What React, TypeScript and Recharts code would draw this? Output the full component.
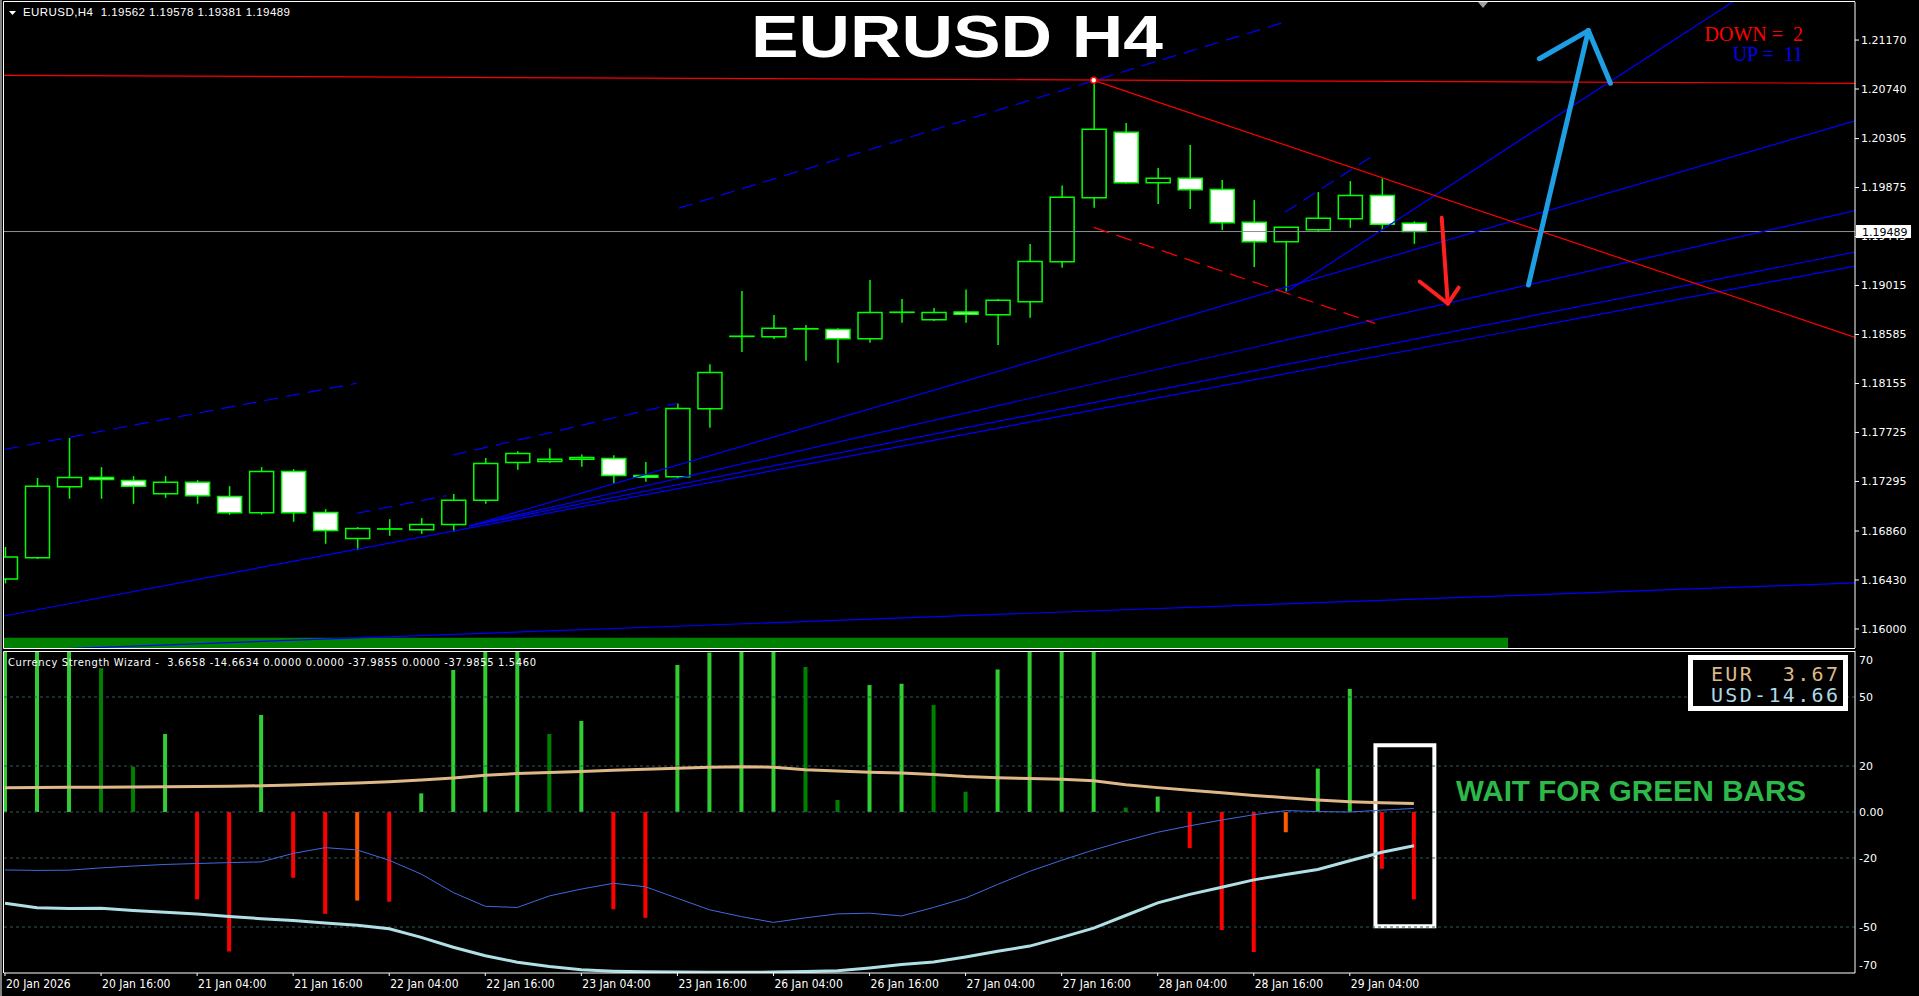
import React from 'react';
import {
  ComposedChart,
  Bar,
  Line,
  XAxis,
  YAxis,
  ReferenceLine,
  ReferenceArea,
  ReferenceDot,
  Cell,
} from 'recharts';

// EURUSD H4, bar 0 = 20 Jan 04:00
const opens = [
  1.16439, 1.16626, 1.17248, 1.1733, 1.17304, 1.17187, 1.17287, 1.17164, 1.1702, 1.17383,
  1.17023, 1.16795, 1.16877, 1.1687, 1.16918, 1.17129, 1.17462, 1.17471, 1.17489, 1.17497,
  1.17348, 1.17336, 1.17933, 1.18568, 1.18565, 1.18634, 1.1863, 1.18547, 1.18779, 1.18714,
  1.18782, 1.18758, 1.18872, 1.19224, 1.19785, 1.2036, 1.19917, 1.19956, 1.19859, 1.1957,
  1.19399, 1.19504, 1.19601, 1.19806, 1.19562,
];
const highs = [
  1.1672, 1.17326, 1.17676, 1.17421, 1.17342, 1.17342, 1.17307, 1.17254, 1.17421, 1.17403,
  1.17052, 1.16894, 1.16964, 1.16973, 1.17184, 1.175, 1.17561, 1.17585, 1.17532, 1.17526,
  1.17465, 1.1798, 1.18325, 1.18966, 1.18756, 1.18668, 1.18641, 1.19063, 1.18896, 1.18817,
  1.18981, 1.18896, 1.19379, 1.19894, 1.20816, 1.20441, 1.20046, 1.20248, 1.19941, 1.19765,
  1.1953, 1.19835, 1.19932, 1.19956, 1.19578,
];
const lows = [
  1.164, 1.16615, 1.17143, 1.17143, 1.17099, 1.17151, 1.17099, 1.17002, 1.17002, 1.16941,
  1.16748, 1.16692, 1.16818, 1.16835, 1.16856, 1.17099, 1.17397, 1.17459, 1.17424, 1.17274,
  1.17292, 1.17316, 1.17766, 1.18431, 1.18545, 1.18354, 1.18337, 1.18512, 1.18688, 1.18703,
  1.18688, 1.18492, 1.18732, 1.19171, 1.19698, 1.1991, 1.1973, 1.19686, 1.19502, 1.19177,
  1.18955, 1.19484, 1.19522, 1.19502, 1.19381,
];
const closes = [
  1.16632, 1.17253, 1.1733, 1.17313, 1.17252, 1.17287, 1.17169, 1.1702, 1.17383, 1.1702,
  1.16865, 1.16883, 1.16879, 1.16918, 1.17129, 1.17453, 1.17541, 1.17489, 1.17506, 1.17348,
  1.17331, 1.17936, 1.18252, 1.1857, 1.18639, 1.18636, 1.18547, 1.18779, 1.18781, 1.18779,
  1.18762, 1.18885, 1.19227, 1.19789, 1.20386, 1.19917, 1.19956, 1.19856, 1.19566, 1.19399,
  1.19526, 1.19605, 1.19806, 1.19552, 1.19489,
];

// Currency Strength Wizard
const histValues = [
  80, 80, 80, 62.5, 19.7, 33.9, -38, -60.7, 42.2, -28.6,
  -44.3, -38.5, -39, 8.1, 61.7, 80, 80, 33.9, 39.6, -42.3,
  -46, 63.9, 69.3, 80, 80, 63, 5.2, 55.2, 55.8, 46.5,
  8.8, 62, 80, 80, 80, 1.9, 6.7, -15.7, -51.3, -60.9,
  -8.8, 18.9, 53.5, -24.7, -38,
];
const histKinds = [
  'up', 'up', 'up', 'upWeak', 'upWeak', 'up', 'down', 'down', 'up', 'down',
  'down', 'downWeak', 'down', 'up', 'up', 'up', 'up', 'upWeak', 'up', 'down',
  'down', 'up', 'up', 'up', 'up', 'upWeak', 'upWeak', 'up', 'up', 'upWeak',
  'upWeak', 'up', 'up', 'up', 'up', 'upWeak', 'up', 'down', 'down', 'down',
  'downWeak', 'up', 'up', 'down', 'down',
];
const eurStrength = [
  10.5, 10.7, 10.8, 10.8, 10.9, 11.0, 11.1, 11.2, 11.4, 11.7,
  12.2, 12.6, 13.2, 13.9, 14.8, 16.0, 16.7, 17.2, 17.6, 18.1,
  18.6, 19.0, 19.5, 19.7, 19.5, 18.4, 17.8, 17.3, 17.0, 16.3,
  15.4, 14.9, 14.6, 14.2, 13.6, 11.8, 10.6, 9.5, 8.4, 7.2,
  6.2, 5.2, 4.5, 4.0, 3.67,
];
const usdStrength = [
  -39.7, -41.6, -42, -41.8, -42.8, -43.6, -44.3, -45.4, -46.4, -47.2,
  -48.3, -49.2, -50.8, -54.5, -58.8, -62.5, -65.3, -67.2, -68.6, -69.2,
  -69.5, -69.6, -69.7, -69.7, -69.6, -69.4, -69.0, -67.8, -66.3, -65.2,
  -63, -60.5, -58.3, -54.5, -50.5, -45, -39.5, -35.8, -32.7, -29.5,
  -27.2, -25, -21.2, -17.5, -14.66,
];
const signalLine = [
  -25.2, -25.4, -25.3, -24.3, -23.5, -22.8, -22.4, -22, -21.7, -18,
  -15.5, -16.5, -21, -27, -35, -41, -41.5, -36.5, -33.5, -31,
  -32.5, -37.5, -42.5, -45.5, -48, -46, -44.3, -44, -45.2, -41.5,
  -37.4, -31.5, -25.8, -21, -16.5, -12.5, -8.8, -6, -3.5, -1.2,
  0.6, 0.2, 0.0, 0.8, 1.55,
];

const priceTicks = [
  1.16, 1.1643, 1.1686, 1.17295, 1.17725, 1.18155, 1.18585, 1.19015, 1.19445, 1.19875,
  1.20305, 1.2074, 1.2117,
];
const levelTicks = [70, 50, 20, 0, -20, -50, -70];
const dashedLevels = [50, 20, 0, -20, -50];
const timeTickBars = [0, 3, 6, 9, 12, 15, 18, 21, 24, 27, 30, 33, 36, 39, 42];
const timeTickLabels = [
  '20 Jan 2026', '20 Jan 16:00', '21 Jan 04:00', '21 Jan 16:00', '22 Jan 04:00',
  '22 Jan 16:00', '23 Jan 04:00', '23 Jan 16:00', '26 Jan 04:00', '26 Jan 16:00',
  '27 Jan 04:00', '27 Jan 16:00', '28 Jan 04:00', '28 Jan 16:00', '29 Jan 04:00',
];

// chart objects, in (bar, price)
type Seg = { x1: number; y1: number; x2: number; y2: number };
const blueRays: Seg[] = [
  { x1: 14.49, y1: 1.16904, x2: 57.777, y2: 1.2046 },
  { x1: 14.49, y1: 1.16904, x2: 57.777, y2: 1.19673 },
  { x1: 14.49, y1: 1.16904, x2: 57.777, y2: 1.19309 },
  { x1: -0.031, y1: 1.16114, x2: 57.777, y2: 1.19186 },
  { x1: 0.78, y1: 1.15816, x2: 57.777, y2: 1.16404 },
  { x1: 40, y1: 1.18955, x2: 57.777, y2: 1.22202 },
];
const blueDashed: Seg[] = [
  { x1: 0, y1: 1.17577, x2: 10.98, y2: 1.18157 },
  { x1: 10.98, y1: 1.17016, x2: 13.79, y2: 1.1717 },
  { x1: 13.99, y1: 1.17527, x2: 20.99, y2: 1.17981 },
  { x1: 21.05, y1: 1.19695, x2: 39.97, y2: 1.21328 },
  { x1: 39.97, y1: 1.19658, x2: 42.79, y2: 1.20167 },
];
const redSolid: Seg[] = [
  { x1: -0.031, y1: 1.2086, x2: 57.777, y2: 1.2079 },
  { x1: 34, y1: 1.20816, x2: 57.777, y2: 1.1856 },
];
const redDashed: Seg[] = [{ x1: 34, y1: 1.19525, x2: 42.79, y2: 1.18683 }];
const downArrow: Seg[] = [
  { x1: 44.87, y1: 1.19609, x2: 45.06, y2: 1.18857 },
  { x1: 44.18, y1: 1.1905, x2: 45.06, y2: 1.18857 },
  { x1: 45.4, y1: 1.18997, x2: 45.06, y2: 1.18857 },
];
const upArrow: Seg[] = [
  { x1: 47.58, y1: 1.1902, x2: 49.45, y2: 1.21253 },
  { x1: 47.92, y1: 1.21006, x2: 49.45, y2: 1.21253 },
  { x1: 50.14, y1: 1.20791, x2: 49.45, y2: 1.21253 },
];
const greenBand = { x1: -0.031, x2: 46.94, y1: 1.15833, y2: 1.15923 };
const waitBox = { x1: 42.8, x2: 44.64, y1: -49.7, y2: 29.0 };
const swingHigh = { x: 34, y: 1.20816 };
const lastClose = closes[closes.length - 1];

const X_DOMAIN: [number, number] = [-0.031, 57.777];
const PRICE_DOMAIN: [number, number] = [1.15833, 1.21504];
const W = 1919;
const CANDLE = '#00ff00';
const histColors: Record<string, string> = {
  up: '#32cd32',
  upWeak: '#008000',
  down: '#ff0000',
  downWeak: '#ff5a00',
};

const rows = opens.map((o, i) => ({
  i,
  o,
  h: highs[i],
  l: lows[i],
  c: closes[i],
  hist: histValues[i],
  eur: eurStrength[i],
  usd: usdStrength[i],
  sig: signalLine[i],
}));

const Candle = (props: any) => {
  const { x, y, width, height, payload } = props;
  if (x == null || payload == null) return null;
  const { o, h, l, c } = payload;
  const hgt = Math.abs(height);
  const top = Math.min(y, y + height);
  const ppu = h - l > 0 ? hgt / (h - l) : 0;
  const cx = x + width / 2;
  const yO = top + (h - o) * ppu;
  const yC = top + (h - c) * ppu;
  const bTop = Math.min(yO, yC);
  const bH = Math.abs(yO - yC);
  const bull = c >= o;
  return (
    <g>
      <line x1={cx} x2={cx} y1={top} y2={top + hgt} stroke={CANDLE} strokeWidth={1.5} />
      <path
        d={`M${cx - 12},${bTop}h24v${bH}h-24Z`}
        fill={bull ? '#000' : '#fff'}
        stroke={CANDLE}
        strokeWidth={1.5}
      />
    </g>
  );
};

const TimeTick = (props: any) => {
  const { x, y, payload } = props;
  const k = timeTickBars.indexOf(payload.value);
  return (
    <g>
      <line x1={x} x2={x} y1={y} y2={y + 3} stroke="#fff" />
      <text
        x={x + 1}
        y={y + 15}
        fill="#fff"
        fontSize={12}
        fontFamily="'DejaVu Sans Condensed', 'DejaVu Sans'"
        style={{ fontStretch: 'condensed' }}
      >
        {timeTickLabels[k]}
      </text>
    </g>
  );
};

const LevelTick = (props: any) => {
  const { x, y, payload } = props;
  const v = payload.value;
  const dy = v === 70 ? 9 : v === -70 ? -8 : 0;
  return (
    <text x={x} y={y + dy} dy="0.35em" fill="#fff" fontSize={11} fontFamily="DejaVu Sans" textAnchor="start">
      {v === 0 ? '0.00' : v}
    </text>
  );
};

const seg = (s: Seg, key: string, stroke: string, extra: any = {}) => (
  <ReferenceLine
    key={key}
    segment={[{ x: s.x1, y: s.y1 }, { x: s.x2, y: s.y2 }]}
    stroke={stroke}
    ifOverflow="hidden"
    {...extra}
  />
);

export default function App() {
  return (
    <div
      style={{
        position: 'fixed',
        left: 0,
        top: 0,
        width: W,
        height: 996,
        background: '#000',
        overflow: 'hidden',
      }}
    >
      <div style={{ position: 'absolute', left: 0, top: 0 }}>
        <ComposedChart width={W} height={648} data={rows} margin={{ top: 2, right: 0, bottom: 0, left: 4 }}>
          <XAxis dataKey="i" type="number" domain={X_DOMAIN} hide allowDataOverflow />
          <YAxis
            orientation="right"
            width={64}
            type="number"
            domain={PRICE_DOMAIN}
            allowDataOverflow
            ticks={priceTicks}
            interval={0}
            tickFormatter={(v: number) => v.toFixed(5)}
            tick={{ fill: '#fff', fontSize: 11, fontFamily: 'DejaVu Sans' }}
            axisLine={{ stroke: '#fff' }}
            tickLine={{ stroke: '#fff' }}
            tickSize={4}
            tickMargin={2}
          />
          <ReferenceArea {...greenBand} fill="#008000" fillOpacity={1} stroke="none" ifOverflow="hidden" />
          <ReferenceLine y={lastClose} stroke="#8c9099" />
          <Bar
            dataKey={(d: any) => [d.l, d.h]}
            barSize={25}
            shape={<Candle />}
            isAnimationActive={false}
          />
          {blueRays.map((s, k) => seg(s, `br${k}`, '#0000ff', { strokeWidth: 1.2 }))}
          {blueDashed.map((s, k) => seg(s, `bd${k}`, '#0000ff', { strokeWidth: 1.2, strokeDasharray: '14 8' }))}
          {redSolid.map((s, k) => seg(s, `rs${k}`, '#ff0000', { strokeWidth: 1.2 }))}
          {redDashed.map((s, k) => seg(s, `rd${k}`, '#ff0000', { strokeWidth: 1.2, strokeDasharray: '16 8' }))}
          {downArrow.map((s, k) => seg(s, `da${k}`, '#ff2020', { strokeWidth: 4, strokeLinecap: 'round' }))}
          {upArrow.map((s, k) => seg(s, `ua${k}`, '#1e9fe3', { strokeWidth: 5, strokeLinecap: 'round' }))}
          <ReferenceDot x={swingHigh.x} y={swingHigh.y} r={3} fill="#fff" stroke="#ff0000" strokeWidth={1.5} />
        </ComposedChart>
      </div>

      <div style={{ position: 'absolute', left: 0, top: 651 }}>
        <ComposedChart width={W} height={345} data={rows} margin={{ top: 0, right: 0, bottom: 0, left: 4 }}>
          <XAxis
            dataKey="i"
            type="number"
            domain={X_DOMAIN}
            allowDataOverflow
            ticks={timeTickBars}
            interval={0}
            height={23}
            tick={<TimeTick />}
            tickLine={false}
            tickSize={0}
            tickMargin={0}
            axisLine={{ stroke: '#fff' }}
          />
          <YAxis
            orientation="right"
            width={64}
            type="number"
            domain={[-70, 70]}
            allowDataOverflow
            ticks={levelTicks}
            interval={0}
            tick={<LevelTick />}
            axisLine={{ stroke: '#fff' }}
            tickLine={false}
            tickSize={3}
            tickMargin={1}
          />
          {dashedLevels.map((v) => (
            <ReferenceLine key={v} y={v} stroke="#355a5a" strokeDasharray="3 3" />
          ))}
          <Line dataKey="eur" stroke="#deb887" strokeWidth={3} dot={false} isAnimationActive={false} />
          <Line dataKey="sig" stroke="#4169e1" strokeWidth={1} dot={false} isAnimationActive={false} />
          <Line dataKey="usd" stroke="#b0e0e6" strokeWidth={3} dot={false} isAnimationActive={false} />
          <Bar dataKey="hist" barSize={4} isAnimationActive={false}>
            {rows.map((r) => (
              <Cell key={r.i} fill={histColors[histKinds[r.i]]} />
            ))}
          </Bar>
          <ReferenceArea {...waitBox} fill="none" fillOpacity={0} stroke="#fff" strokeWidth={4} ifOverflow="visible" />
        </ComposedChart>
      </div>

      <svg
        width={W}
        height={996}
        style={{ position: 'absolute', left: 0, top: 0, pointerEvents: 'none' }}
      >
        <rect x={0} y={0} width={2} height={996} fill="#808080" />
        <g stroke="#fff" strokeWidth={1} fill="none">
          <polyline points="1855,1.5 3.5,1.5 3.5,648.5 1855,648.5" />
          <polyline points="1855,651.5 3.5,651.5 3.5,973" />
        </g>
        <polygon points="9,11 16,11 12.5,15" fill="#fff" />
        <text
          x={23}
          y={16}
          fill="#fff"
          fontSize={11.5}
          fontFamily="Liberation Sans"
          textLength={267}
          style={{ whiteSpace: 'pre' }}
        >
          {'EURUSD,H4  1.19562 1.19578 1.19381 1.19489'}
        </text>
        <polygon points="1478,2 1488,2 1483,8" fill="#a0a0a0" />
        <text
          x={957}
          y={57}
          fill="#fff"
          fontSize={60}
          fontWeight="bold"
          fontFamily="Liberation Sans"
          textAnchor="middle"
          textLength={412}
          lengthAdjust="spacingAndGlyphs"
        >
          EURUSD H4
        </text>
        <text x={1803} y={41} fill="#ff0000" fontSize={20} fontFamily="Liberation Serif" textAnchor="end" style={{ whiteSpace: 'pre' }}>
          {'DOWN =  2'}
        </text>
        <text x={1803} y={61} fill="#0000ff" fontSize={20} fontFamily="Liberation Serif" textAnchor="end" style={{ whiteSpace: 'pre' }}>
          {'UP =  11'}
        </text>
        <rect x={1856} y={225} width={55} height={13} fill="#fff" />
        <text x={1862} y={235.5} fill="#000" fontSize={11} fontFamily="DejaVu Sans">
          1.19489
        </text>
        <text
          x={8}
          y={666}
          fill="#fff"
          fontSize={11}
          fontFamily="'DejaVu Sans Condensed', 'DejaVu Sans'"
          textLength={528}
          style={{ whiteSpace: 'pre', fontStretch: 'condensed' }}
        >
          {'Currency Strength Wizard -  3.6658 -14.6634 0.0000 0.0000 -37.9855 0.0000 -37.9855 1.5460'}
        </text>
        <rect x={1690.5} y={657.5} width={155} height={51} fill="#000" stroke="#fff" strokeWidth={5} />
        <text x={1711} y={681} fill="#deb887" fontSize={20} fontFamily="DejaVu Sans Mono" textLength={127} style={{ whiteSpace: 'pre' }}>
          {'EUR  3.67'}
        </text>
        <text x={1711} y={702} fill="#add8e6" fontSize={20} fontFamily="DejaVu Sans Mono" textLength={127} style={{ whiteSpace: 'pre' }}>
          {'USD-14.66'}
        </text>
        <text
          x={1456}
          y={801}
          fill="#2db84a"
          fontSize={29}
          fontWeight="bold"
          fontFamily="Liberation Sans"
          textLength={350}
          lengthAdjust="spacingAndGlyphs"
        >
          WAIT FOR GREEN BARS
        </text>
      </svg>
    </div>
  );
}
